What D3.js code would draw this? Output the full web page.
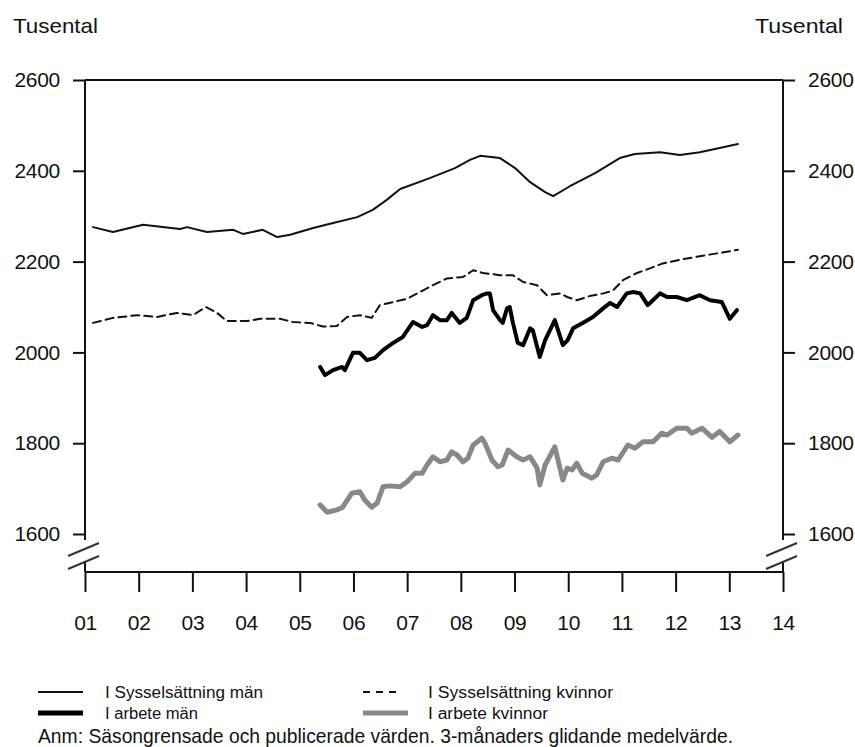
<!DOCTYPE html>
<html>
<head>
<meta charset="utf-8">
<script src="https://cdn.jsdelivr.net/npm/d3@7"></script>
<style>
  html, body { margin: 0; padding: 0; background: #fff; }
  svg text { font-family: "Liberation Sans", Arial, sans-serif; fill: #111; }
</style>
</head>
<body>
<svg id="chart" width="855" height="747"></svg>
<script>
// ---- Data (decimal year, thousands) ----
const yearTicks = [2001, 2002, 2003, 2004, 2005, 2006, 2007, 2008, 2009, 2010, 2011, 2012, 2013, 2014];
const valueTicks = [1600, 1800, 2000, 2200, 2400, 2600];

const sysselMan = [
  [2001.15,2276],[2001.52,2265],[2002.08,2281],[2002.77,2272],[2002.90,2276],[2003.27,2265],
  [2003.76,2270],[2003.94,2261],[2004.31,2270],[2004.58,2254],[2004.82,2259],[2005.25,2274],
  [2005.62,2285],[2006.07,2298],[2006.36,2314],[2006.62,2336],[2006.87,2360],[2007.42,2384],
  [2007.89,2406],[2008.17,2424],[2008.36,2433],[2008.73,2428],[2009.01,2406],[2009.29,2375],
  [2009.57,2353],[2009.72,2344],[2010.03,2366],[2010.50,2395],[2010.96,2428],[2011.24,2437],
  [2011.71,2441],[2012.08,2435],[2012.45,2441],[2012.82,2450],[2013.16,2459]
];

const sysselKvinnor = [
  [2001.15,2065],[2001.52,2076],[2001.97,2082],[2002.34,2078],[2002.71,2087],[2003.01,2082],
  [2003.25,2100],[2003.46,2087],[2003.64,2069],[2004.02,2069],[2004.26,2074],[2004.63,2074],
  [2004.87,2067],[2005.19,2065],[2005.43,2057],[2005.69,2058],[2005.88,2078],[2006.12,2082],
  [2006.34,2076],[2006.49,2104],[2006.74,2111],[2007.00,2118],[2007.24,2133],[2007.48,2148],
  [2007.74,2163],[2008.04,2166],[2008.23,2181],[2008.41,2175],[2008.73,2170],[2008.97,2170],
  [2009.16,2155],[2009.42,2148],[2009.60,2126],[2009.85,2130],[2009.98,2122],[2010.16,2115],
  [2010.40,2124],[2010.65,2130],[2010.83,2136],[2011.02,2159],[2011.28,2175],[2011.52,2185],
  [2011.76,2196],[2012.08,2204],[2012.45,2212],[2012.82,2219],[2013.16,2226]
];

const arbeteMan = [
  [2005.38,1968],[2005.47,1950],[2005.62,1961],[2005.79,1968],[2005.84,1961],[2005.99,1999],
  [2006.12,1999],[2006.25,1983],[2006.40,1988],[2006.55,2005],[2006.74,2021],[2006.92,2034],
  [2007.11,2067],[2007.28,2056],[2007.37,2060],[2007.48,2082],[2007.61,2071],[2007.74,2071],
  [2007.83,2087],[2007.98,2065],[2008.11,2076],[2008.23,2115],[2008.39,2126],[2008.49,2130],
  [2008.54,2130],[2008.60,2093],[2008.73,2071],[2008.78,2065],[2008.86,2097],[2008.91,2100],
  [2008.97,2065],[2009.06,2021],[2009.16,2016],[2009.29,2053],[2009.34,2049],[2009.47,1990],
  [2009.57,2027],[2009.75,2071],[2009.90,2016],[2009.99,2027],[2010.09,2053],[2010.27,2065],
  [2010.46,2078],[2010.65,2097],[2010.78,2109],[2010.91,2100],[2011.09,2130],[2011.21,2133],
  [2011.34,2130],[2011.48,2104],[2011.71,2130],[2011.84,2122],[2012.02,2122],[2012.21,2115],
  [2012.45,2126],[2012.64,2115],[2012.86,2111],[2013.01,2074],[2013.14,2093]
];

const arbeteKvinnor = [
  [2005.38,1664],[2005.51,1648],[2005.69,1653],[2005.80,1659],[2005.97,1690],[2006.12,1693],
  [2006.21,1675],[2006.34,1659],[2006.44,1668],[2006.55,1704],[2006.68,1706],[2006.87,1704],
  [2007.00,1715],[2007.15,1734],[2007.28,1734],[2007.37,1752],[2007.48,1770],[2007.61,1759],
  [2007.74,1763],[2007.83,1781],[2007.93,1774],[2008.04,1759],[2008.13,1767],[2008.23,1796],
  [2008.39,1811],[2008.45,1800],[2008.58,1763],[2008.69,1748],[2008.77,1752],[2008.88,1785],
  [2009.04,1770],[2009.16,1763],[2009.29,1770],[2009.42,1745],[2009.47,1708],[2009.57,1752],
  [2009.75,1792],[2009.90,1719],[2009.98,1745],[2010.07,1741],[2010.16,1756],[2010.26,1734],
  [2010.44,1723],[2010.53,1730],[2010.65,1759],[2010.81,1767],[2010.93,1763],[2011.11,1796],
  [2011.24,1789],[2011.39,1803],[2011.58,1803],[2011.74,1822],[2011.84,1818],[2012.02,1833],
  [2012.21,1833],[2012.30,1822],[2012.49,1833],[2012.68,1813],[2012.82,1826],[2013.01,1803],
  [2013.16,1818]
];

const unitLabel = "Tusental";
const legendLabels = ["I Sysselsättning män", "I Sysselsättning kvinnor", "I arbete män", "I arbete kvinnor"];
const noteText = "Anm: Säsongrensade och publicerade värden. 3-månaders glidande medelvärde.";

(function draw() {
  const svg = d3.select("#chart");
  const pLeft = 85, pRight = 783, pTop = 80, pBottom = 534, xAxisY = 572;

  const x = d3.scaleLinear().domain([2001, 2014]).range([pLeft, pRight]);
  const y = d3.scaleLinear().domain([1600, 2600]).range([pBottom, pTop]);

  const axisColor = "#111";

  // Top frame line
  svg.append("line").attr("x1", pLeft).attr("x2", pRight).attr("y1", pTop).attr("y2", pTop)
    .attr("stroke", axisColor).attr("stroke-width", 2);

  // Y axes (left & right)
  function yAxis(g, axisFn) {
    const ax = axisFn(y).tickValues(valueTicks).tickFormat(d3.format("d")).tickSize(12).tickPadding(13);
    g.call(ax);
    g.select(".domain").remove();
    g.selectAll(".tick line").attr("stroke", axisColor).attr("stroke-width", 2);
    g.selectAll(".tick text").attr("font-size", 21).attr("fill", "#111")
      .attr("font-family", "Liberation Sans, Arial, sans-serif")
      .attr("letter-spacing", "-0.3");
  }
  const gL = svg.append("g").attr("transform", `translate(${pLeft},0)`);
  yAxis(gL, d3.axisLeft);
  const gR = svg.append("g").attr("transform", `translate(${pRight},0)`);
  yAxis(gR, d3.axisRight);

  // Vertical axis lines with break
  const breakTop = y(1600) + 6, breakBot = y(1600) + 28;
  [pLeft, pRight].forEach(px => {
    svg.append("line").attr("x1", px).attr("x2", px).attr("y1", pTop).attr("y2", breakTop)
      .attr("stroke", axisColor).attr("stroke-width", 2);
    svg.append("line").attr("x1", px).attr("x2", px).attr("y1", breakBot).attr("y2", xAxisY)
      .attr("stroke", axisColor).attr("stroke-width", 2);
    [0, 13].forEach(off => {
      svg.append("line")
        .attr("x1", px - 17).attr("y1", breakTop + 16 + off)
        .attr("x2", px + 14).attr("y2", breakTop + 3 + off)
        .attr("stroke", "#333").attr("stroke-width", 2);
    });
  });

  // X axis
  const gX = svg.append("g").attr("transform", `translate(0,${xAxisY})`);
  gX.call(d3.axisBottom(x).tickValues(yearTicks)
    .tickFormat(d => String(d % 100).padStart(2, "0")).tickSize(20).tickPadding(23));
  gX.select(".domain").remove();
  gX.selectAll(".tick line").attr("stroke", axisColor).attr("stroke-width", 2);
  gX.selectAll(".tick text").attr("font-size", 21).attr("fill", "#111")
    .attr("font-family", "Liberation Sans, Arial, sans-serif").attr("letter-spacing", "-0.3");
  svg.append("line").attr("x1", x(2001)).attr("x2", x(2014)).attr("y1", xAxisY).attr("y2", xAxisY)
    .attr("stroke", axisColor).attr("stroke-width", 2);

  // Unit labels
  svg.append("text").attr("x", 13).attr("y", 33).attr("font-size", 21)
    .attr("textLength", 85).attr("lengthAdjust", "spacingAndGlyphs").text(unitLabel);
  svg.append("text").attr("x", 755).attr("y", 33).attr("font-size", 21)
    .attr("textLength", 88).attr("lengthAdjust", "spacingAndGlyphs").text(unitLabel);

  // Series
  const line = d3.line().x(d => x(d[0])).y(d => y(d[1]));
  const series = [
    { data: arbeteKvinnor, stroke: "#888", width: 5, dash: null },
    { data: arbeteMan, stroke: "#000", width: 4, dash: null },
    { data: sysselKvinnor, stroke: "#111", width: 2, dash: "8,5" },
    { data: sysselMan, stroke: "#111", width: 2, dash: null }
  ];
  series.forEach(s => {
    svg.append("path").datum(s.data).attr("d", line)
      .attr("fill", "none").attr("stroke", s.stroke).attr("stroke-width", s.width)
      .attr("stroke-linejoin", "round").attr("stroke-linecap", "round")
      .attr("stroke-dasharray", s.dash);
  });

  // Legend
  const legend = [
    { label: legendLabels[0], x1: 38, x2: 83, y: 692, stroke: "#111", width: 2, dash: null, tx: 105, tl: 158 },
    { label: legendLabels[1], x1: 363, x2: 402, y: 692, stroke: "#111", width: 2, dash: "7,6", tx: 428, tl: 185 },
    { label: legendLabels[2], x1: 38, x2: 83, y: 713, stroke: "#000", width: 5, dash: null, tx: 105, tl: 93 },
    { label: legendLabels[3], x1: 363, x2: 408, y: 713, stroke: "#888", width: 5, dash: null, tx: 428, tl: 120 }
  ];
  legend.forEach(l => {
    svg.append("line").attr("x1", l.x1).attr("x2", l.x2).attr("y1", l.y).attr("y2", l.y)
      .attr("stroke", l.stroke).attr("stroke-width", l.width).attr("stroke-dasharray", l.dash);
    svg.append("text").attr("x", l.tx).attr("y", l.y + 6).attr("font-size", 16)
      .attr("textLength", l.tl).attr("lengthAdjust", "spacingAndGlyphs").text(l.label);
  });

  svg.append("text").attr("x", 38).attr("y", 743).attr("font-size", 21)
    .attr("textLength", 695).attr("lengthAdjust", "spacingAndGlyphs").text(noteText);
})();
</script>
</body>
</html>
